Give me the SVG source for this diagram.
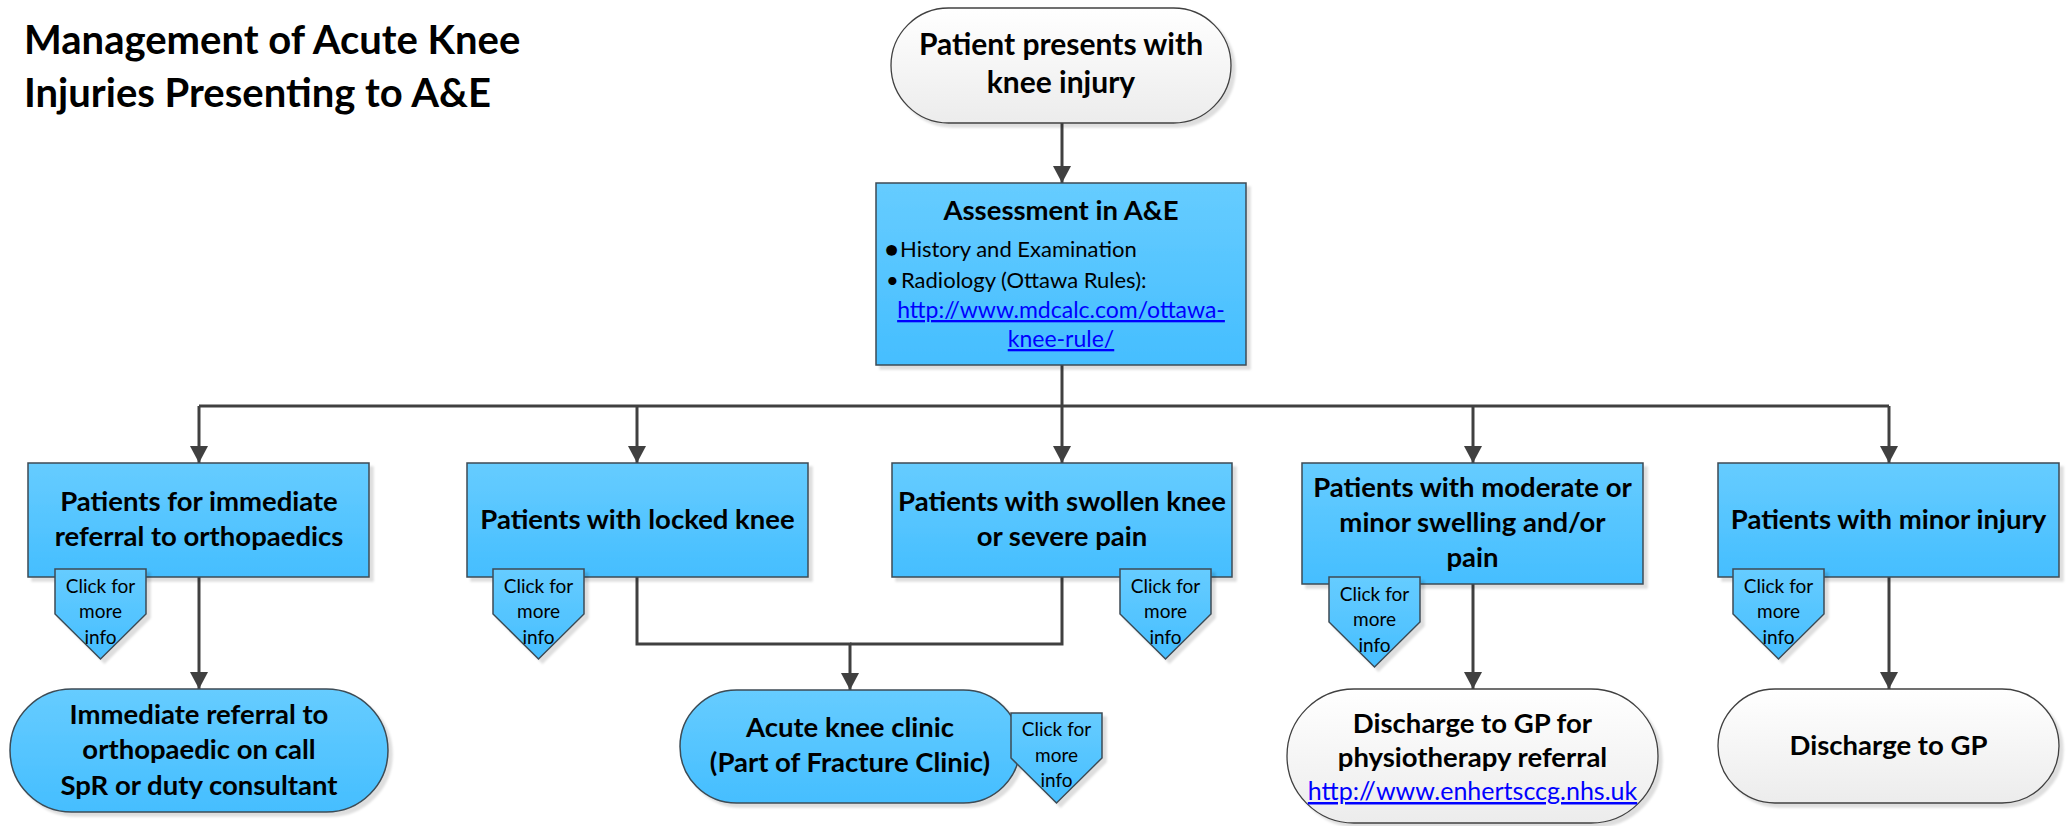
<svg xmlns="http://www.w3.org/2000/svg" width="2068" height="826" viewBox="0 0 2068 826">
<defs>
<linearGradient id="gBlue" x1="0" y1="0" x2="0" y2="1">
<stop offset="0" stop-color="#66CCFF"/>
<stop offset="1" stop-color="#45BEFF"/>
</linearGradient>
<linearGradient id="gWhite" x1="0" y1="0" x2="0" y2="1">
<stop offset="0" stop-color="#FFFFFF"/>
<stop offset="1" stop-color="#ECECEC"/>
</linearGradient>
<filter id="shadow" x="-5%" y="-5%" width="115%" height="120%">
<feDropShadow dx="4" dy="4" stdDeviation="1" flood-color="#000000" flood-opacity="0.13"/>
</filter>
<marker id="arrow" markerUnits="userSpaceOnUse" viewBox="0 0 17 18" refX="17" refY="9" markerWidth="17" markerHeight="18" orient="auto">
<path d="M0,0 L17,9 L0,18 Z" fill="#404040"/>
</marker>
<style>
.blue{fill:url(#gBlue);stroke:#3C4B55;stroke-width:1.5;filter:url(#shadow)}
.white{fill:url(#gWhite);stroke:#404040;stroke-width:1.3;filter:url(#shadow)}
.conn{fill:none;stroke:#404040;stroke-width:3}
.arr{marker-end:url(#arrow)}
text{font-family:Lato,"Liberation Sans",sans-serif;fill:#000}
.b{font-weight:bold;font-size:27.5px;text-anchor:middle}
.top{font-weight:bold;font-size:30px;text-anchor:middle}
.title{font-weight:bold;font-size:40px}
.r{font-size:22px}
.link{font-size:23px;fill:#0000FF;text-decoration:underline;text-anchor:middle}
.link2{font-size:25px}
.click{font-size:19px;text-anchor:middle}
</style>
</defs>

<g id="title">
<text class="title" x="24" y="54">Management of Acute Knee</text>
<text class="title" x="24" y="107">Injuries Presenting to A&amp;E</text>
</g>

<g id="connectors">
<path class="conn arr" d="M1062,123 V183"/>
<path class="conn" d="M1062,365 V406"/>
<path class="conn" d="M199,406 H1889"/>
<path class="conn arr" d="M199,406 V463"/>
<path class="conn arr" d="M637,406 V463"/>
<path class="conn arr" d="M1062,406 V463"/>
<path class="conn arr" d="M1473,406 V463"/>
<path class="conn arr" d="M1889,406 V463"/>
<path class="conn arr" d="M199,577 V689"/>
<path class="conn arr" d="M637,577 V644 H850 V690"/>
<path class="conn" d="M1062,577 V644 H850"/>
<path class="conn arr" d="M1473,584 V689"/>
<path class="conn arr" d="M1889,577 V689"/>
</g>

<g id="node-start">
<rect class="white" x="891" y="8" width="340" height="115" rx="57.5"/>
<text class="top" x="1061" y="55">Patient presents with</text>
<text class="top" x="1061" y="93">knee injury</text>
</g>

<g id="node-assessment">
<rect class="blue" x="876" y="183" width="370" height="182"/>
<text class="b" x="1061" y="220">Assessment in A&amp;E</text>
<text class="r" x="885" y="257">●</text>
<text class="r" x="900" y="257">History and Examination</text>
<text class="r" x="886" y="288">•</text>
<text class="r" x="901" y="288">Radiology (Ottawa Rules):</text>
<text class="link" x="1061" y="318">http://www.mdcalc.com/ottawa-</text>
<text class="link" x="1061" y="347">knee-rule/</text>
</g>

<g id="node-immediate">
<rect class="blue" x="28" y="463" width="341" height="114"/>
<text class="b" x="199" y="511">Patients for immediate</text>
<text class="b" x="199" y="546">referral to orthopaedics</text>
</g>
<g id="click-immediate">
<path class="blue" d="M55,569 H146 V614 L100.5,659 L55,614 Z"/>
<text class="click" x="100.5" y="593">Click for</text>
<text class="click" x="100.5" y="618">more</text>
<text class="click" x="100.5" y="644">info</text>
</g>

<g id="node-locked">
<rect class="blue" x="467" y="463" width="341" height="114"/>
<text class="b" x="637.5" y="529">Patients with locked knee</text>
</g>
<g id="click-locked">
<path class="blue" d="M493,569 H584 V614 L538.5,659 L493,614 Z"/>
<text class="click" x="538.5" y="593">Click for</text>
<text class="click" x="538.5" y="618">more</text>
<text class="click" x="538.5" y="644">info</text>
</g>

<g id="node-swollen">
<rect class="blue" x="892" y="463" width="340" height="114"/>
<text class="b" x="1062" y="511">Patients with swollen knee</text>
<text class="b" x="1062" y="546">or severe pain</text>
</g>
<g id="click-swollen">
<path class="blue" d="M1120,569 H1211 V614 L1165.5,659 L1120,614 Z"/>
<text class="click" x="1165.5" y="593">Click for</text>
<text class="click" x="1165.5" y="618">more</text>
<text class="click" x="1165.5" y="644">info</text>
</g>

<g id="node-moderate">
<rect class="blue" x="1302" y="463" width="341" height="121"/>
<text class="b" x="1472.5" y="497">Patients with moderate or</text>
<text class="b" x="1472.5" y="532">minor swelling and/or</text>
<text class="b" x="1472.5" y="567">pain</text>
</g>
<g id="click-moderate">
<path class="blue" d="M1329,577 H1420 V622 L1374.5,667 L1329,622 Z"/>
<text class="click" x="1374.5" y="601">Click for</text>
<text class="click" x="1374.5" y="626">more</text>
<text class="click" x="1374.5" y="652">info</text>
</g>

<g id="node-minor">
<rect class="blue" x="1718" y="463" width="341" height="114"/>
<text class="b" x="1888.5" y="529">Patients with minor injury</text>
</g>
<g id="click-minor">
<path class="blue" d="M1733,569 H1824 V614 L1778.5,659 L1733,614 Z"/>
<text class="click" x="1778.5" y="593">Click for</text>
<text class="click" x="1778.5" y="618">more</text>
<text class="click" x="1778.5" y="644">info</text>
</g>

<g id="node-referral">
<rect class="blue" x="10" y="689" width="378" height="123" rx="61.5"/>
<text class="b" x="199" y="724">Immediate referral to</text>
<text class="b" x="199" y="759">orthopaedic on call</text>
<text class="b" x="199" y="795">SpR or duty consultant</text>
</g>

<g id="node-clinic">
<rect class="blue" x="680" y="690" width="340" height="113" rx="56.5"/>
<text class="b" x="850" y="737">Acute knee clinic</text>
<text class="b" x="850" y="772">(Part of Fracture Clinic)</text>
</g>
<g id="click-clinic">
<path class="blue" d="M1011,713 H1102 V758 L1056.5,803 L1011,758 Z"/>
<text class="click" x="1056.5" y="736">Click for</text>
<text class="click" x="1056.5" y="762">more</text>
<text class="click" x="1056.5" y="787">info</text>
</g>

<g id="node-physio">
<rect class="white" x="1287" y="689" width="371" height="134" rx="67"/>
<text class="b" x="1472.5" y="733">Discharge to GP for</text>
<text class="b" x="1472.5" y="767">physiotherapy referral</text>
<text class="link link2" x="1472.5" y="800">http://www.enhertsccg.nhs.uk</text>
</g>

<g id="node-discharge">
<rect class="white" x="1718" y="689" width="341" height="114" rx="57"/>
<text class="b" x="1888.5" y="755">Discharge to GP</text>
</g>
</svg>
